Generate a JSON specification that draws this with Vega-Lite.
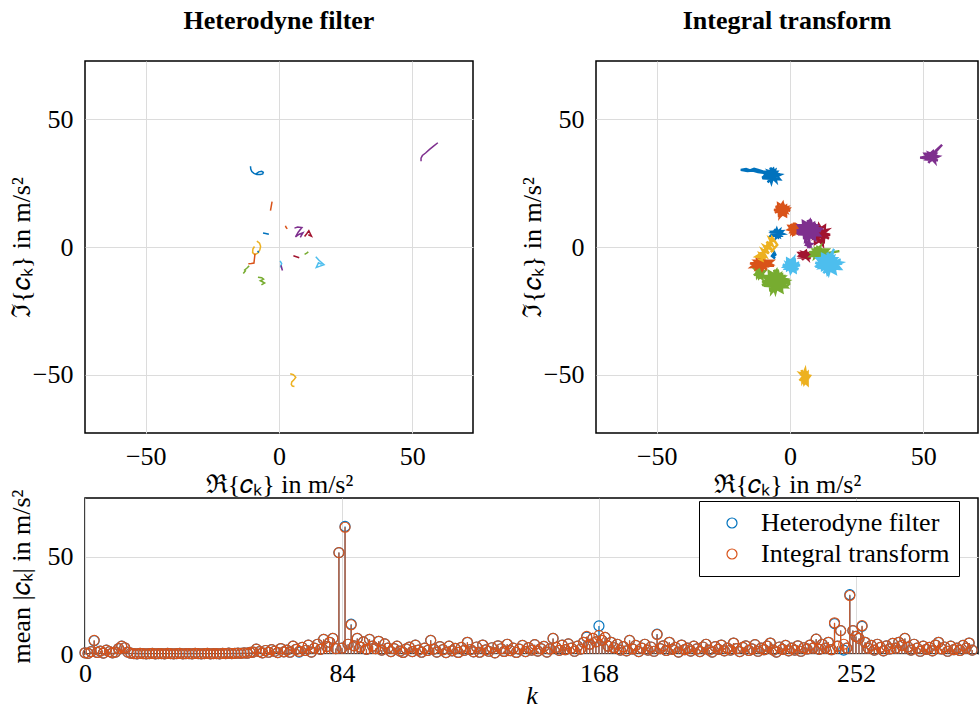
{
"$schema": "https://vega.github.io/schema/vega-lite/v6.json",
"padding": {"left": 7, "top": 7, "right": 0, "bottom": 0},
"background": "white",
"spacing": -14,
"resolve": {"scale": {"color": "independent", "x": "independent", "y": "independent"}, "legend": {"color": "independent"}},
"config": {
  "font": "Liberation Serif",
  "view": {"stroke": "black", "strokeWidth": 1.5},
  "axis": {"labelFont": "Liberation Serif", "labelFontSize": 26, "labelColor": "black", "titleFont": "Liberation Serif", "titleFontSize": 26, "titleFontWeight": "normal", "titleColor": "black", "ticks": false, "domain": false, "grid": true, "gridColor": "#dcdcdc", "gridWidth": 1, "labelFlush": false, "labelOverlap": false},
  "axisY": {"minExtent": 53, "maxExtent": 53, "titlePadding": -2},
  "title": {"font": "Liberation Serif", "fontSize": 26, "fontWeight": "bold", "color": "black", "baseline": "alphabetic", "offset": 27},
  "legend": {"labelFont": "Liberation Serif", "labelFontSize": 26, "labelColor": "black", "labelLimit": 400, "strokeColor": "black", "fillColor": "white", "padding": 9, "symbolOffset": 11, "labelOffset": 16, "rowPadding": 5, "cornerRadius": 0}
},
"vconcat": [
{
"hconcat": [
{
 "width": 388, "height": 372,
 "title": {"text": "Heterodyne filter"},
 "data": {"values": [
  {"g":"H1","c":"c1","x":[-10.7,-10.6,-10.2,-9.4,-8.3,-7.0,-6.1,-5.9,-6.5,-7.6,-8.4,-8.1],"y":[31.6,30.5,29.5,28.8,28.4,28.4,28.6,29.2,29.6,29.4,28.8,28.3]},
  {"g":"H2","c":"c2","x":[-2.6,-2.8,-3.0,-3.2],"y":[17.8,16.6,15.4,14.2]},
  {"g":"H3","c":"c1","x":[-6.0,-5.0,-3.8],"y":[5.5,5.3,5.0]},
  {"g":"H4","c":"c2","x":[2.4,2.7,3.1],"y":[8.3,7.6,7.1]},
  {"g":"H5","c":"c4","x":[5.8,7.0,8.6,7.2,6.2,7.6,9.0,8.0],"y":[7.4,7.8,7.6,5.8,4.0,5.0,5.6,3.8]},
  {"g":"H6","c":"c7","x":[9.6,10.4,11.2,11.7,12.2,11.0],"y":[4.1,5.2,6.4,5.3,4.2,4.8]},
  {"g":"H7","c":"c3","x":[-8.3,-7.3,-6.9,-7.2,-8.0,-9.1,-9.9,-9.8,-9.2],"y":[2.3,1.5,0.3,-1.2,-2.4,-3.0,-2.2,-0.8,0.2]},
  {"g":"H8","c":"c1","x":[-8.0,-7.6],"y":[-1.5,-2.2]},
  {"g":"H9","c":"c2","x":[-9.0,-9.2,-9.4,-10.4,-11.5],"y":[-2.6,-4.4,-6.3,-6.5,-6.6]},
  {"g":"H10","c":"c5","x":[-13.4,-12.6,-12.9,-12.0,-11.2],"y":[-10.4,-9.3,-9.0,-8.2,-7.4]},
  {"g":"H11","c":"c5","x":[-7.9,-6.5,-5.8,-7.0,-6.2,-5.4,-6.6],"y":[-11.8,-12.0,-12.6,-13.2,-13.6,-14.1,-14.8]},
  {"g":"H12","c":"c6","x":[0.4,1.0,0.6,1.2],"y":[-5.4,-6.5,-7.6,-8.4]},
  {"g":"H13","c":"c4","x":[0.8,1.0,1.3],"y":[-7.2,-8.2,-9.2]},
  {"g":"H14","c":"c7","x":[5.4,6.5,7.6],"y":[-3.4,-3.8,-4.2]},
  {"g":"H15","c":"c5","x":[9.6,10.4,11.0],"y":[-2.9,-2.4,-1.9]},
  {"g":"H16","c":"c6","x":[13.8,15.0,16.9,15.4,14.0,14.8,16.0],"y":[-3.8,-5.2,-6.9,-7.5,-8.0,-6.2,-6.8]},
  {"g":"H17","c":"c4","x":[53.3,53.3,53.8,55.0,56.5,58.0,59.6],"y":[33.6,34.8,35.8,36.8,38.2,39.5,40.8]},
  {"g":"H18","c":"c3","x":[4.2,5.4,6.3,5.6,4.8,4.6,5.0,5.8],"y":[-49.6,-50.0,-51.0,-52.0,-52.8,-53.8,-54.4,-54.6]}
 ]},
 "transform": [{"flatten": ["x", "y"]}],
 "mark": {"type": "line", "strokeWidth": 1.5, "clip": true},
 "encoding": {
  "x": {"field": "x", "type": "quantitative", "scale": {"domain": [-72.8, 72.8], "nice": false, "zero": false}, "axis": {"values": [-50, 0, 50], "title": "ℜ{𝑐ₖ} in m/s²", "labelPadding": 10, "titlePadding": 2, "titleLineHeight": 20}},
  "y": {"field": "y", "type": "quantitative", "scale": {"domain": [-72.8, 72.8], "nice": false, "zero": false}, "axis": {"values": [-50, 0, 50], "title": "ℑ{𝑐ₖ} in m/s²", "labelPadding": 12}},
  "detail": {"field": "g"},
  "color": {"field": "c", "type": "nominal", "scale": {"domain": ["c1","c2","c3","c4","c5","c6","c7"], "range": ["#0072BD","#D95319","#EDB120","#7E2F8E","#77AC30","#4DBEEE","#A2142F"]}, "legend": null},
  "order": {"value": null}
 }
},
{
 "width": 382, "height": 372,
 "title": {"text": "Integral transform"},
 "data": {"values": [
  {"g":"I1","c":"c1","x":[-7.0,-4.5,-8.1,-5.6,-9.8,-6.3,-5.2,-8.8,-3.5,-7.7,-10.2,-4.9,-8.4,-6.0,-9.1,-3.8,-7.4,-6.6,-10.5,-5.6,-7.0,-8.1,-10.0,-12.0,-13.5,-15.0,-16.5,-18.5,-16.0,-14.0,-12.0,-10.0],"y":[28.0,28.6,29.8,26.8,27.7,30.7,25.6,29.2,28.3,26.2,29.5,29.5,25.3,28.9,26.8,26.5,31.0,27.4,27.1,30.1,25.0,28.3,29.5,30.2,30.6,30.0,30.5,30.2,29.7,29.9,29.3,29.0]},
  {"g":"I2","c":"c2","x":[-3.0,-2.4,-1.2,-4.2,-3.3,-0.3,-5.4,-1.8,-2.7,-4.8,-1.5,-1.5,-5.7,-2.1,-4.2,-4.5,0.0,-3.6,-3.9,-0.9,-6.0,-2.7],"y":[14.5,16.5,13.7,15.6,12.3,15.1,15.9,13.1,17.3,13.9,12.0,16.2,13.4,15.3,12.8,17.0,14.2,14.8,11.7,15.6,14.5,13.7]},
  {"g":"I3","c":"c2","x":[1.5,0.0,2.2,0.6,3.3,1.1,0.4,2.6,-0.7,1.9,3.5,0.2,2.4,0.8,2.8,-0.5,1.7,1.3,3.7,0.6,1.5,2.2],"y":[7.0,6.5,5.5,8.0,7.3,4.8,9.0,6.0,6.8,8.5,5.8,5.8,9.3,6.3,8.0,8.3,4.5,7.5,7.8,5.3,9.5,6.8]},
  {"g":"I4","c":"c1","x":[-5.0,-3.3,-5.8,-4.0,-7.0,-4.5,-3.8,-6.3,-2.5,-5.5,-7.3,-3.5,-6.0,-4.3,-6.5,-2.8,-5.3,-4.8,-7.5,-4.0,-5.0,-5.8],"y":[5.3,4.9,4.2,6.0,5.5,3.7,6.7,4.6,5.1,6.4,4.4,4.4,6.9,4.8,6.0,6.2,3.5,5.7,5.8,4.0,7.1,5.1]},
  {"g":"I6","c":"c7","x":[11.2,10.4,8.9,12.7,11.6,7.8,14.2,9.7,10.8,13.5,9.3,9.3,14.6,10.1,12.7,13.1,7.4,12.0,12.3,8.5,15.0,10.8],"y":[4.8,7.6,3.6,6.4,1.6,5.6,6.8,2.8,8.8,4.0,1.2,7.2,3.2,6.0,2.4,8.4,4.4,5.2,0.8,6.4,4.8,3.6]},
  {"g":"I5","c":"c4","x":[7.0,10.2,5.7,8.8,3.4,7.9,9.3,4.8,11.5,6.1,3.0,9.7,5.2,8.4,4.3,11.1,6.6,7.5,2.5,8.8,7.0,5.7,7.0,7.9,9.7,5.2,6.6,11.1,3.4,8.8,7.5,4.3,9.3,9.3,3.0,8.4,5.2,4.8,11.5,6.1,5.7,10.2,2.5,7.5],"y":[6.5,7.3,8.9,4.9,6.1,10.1,3.3,8.1,6.9,4.1,8.5,8.5,2.9,7.7,4.9,4.5,10.5,5.7,5.3,9.3,2.5,6.9,6.5,9.3,5.3,8.1,3.3,7.3,8.5,4.5,10.5,5.7,2.9,8.9,4.9,7.7,4.1,10.1,6.1,6.9,2.5,8.1,6.5,5.3]},
  {"g":"I7","c":"c4","x":[7.0,7.8,6.6,7.5,6.0,7.2,7.6,6.4,8.2,6.8,5.9,7.7],"y":[1.0,1.3,2.0,0.4,0.8,2.4,-0.3,1.6,1.2,0.0,1.8,1.8]},
  {"g":"I10","c":"c5","x":[-11.5,-11.0,-10.1,-12.4,-11.7,-9.4,-13.3,-10.6,-11.3,-12.9,-10.3,-10.3,-13.6,-10.8,-12.4,-12.7],"y":[-10.0,-8.0,-10.8,-8.9,-12.2,-9.4,-8.6,-11.4,-7.2,-10.6,-12.5,-8.3,-11.1,-9.2,-11.7,-7.5]},
  {"g":"I9","c":"c2","x":[-10.5,-13.7,-9.2,-12.3,-6.9,-11.4,-12.8,-8.3,-15.0,-9.6,-6.5,-13.2,-8.7,-11.9,-7.8,-14.6,-10.1,-11.0,-6.0,-12.3,-10.5,-9.2],"y":[-6.6,-6.1,-5.1,-7.6,-6.9,-4.4,-8.6,-5.6,-6.4,-8.1,-5.4,-5.4,-8.9,-5.9,-7.6,-7.9,-4.1,-7.1,-7.4,-4.9,-9.1,-6.4]},
  {"g":"I18","c":"c1","x":[-6.2,-5.5,-6.5,-5.8,-6.8,-5.6],"y":[-1.5,-3.0,-4.0,-2.0,-3.5,-4.5]},
  {"g":"I8","c":"c3","x":[-12.0,-10.5,-11.5,-9.0,-10.5,-8.0,-9.8,-7.0,-8.8,-6.5,-7.8,-5.5,-6.8,-7.5,-9.5,-8.2,-11.0,-9.2,-12.8,-10.0,-8.5,-6.2,-4.8,-7.2],"y":[-4.5,-5.2,-2.5,-3.8,-1.0,-2.5,0.5,-1.0,2.0,0.5,3.5,2.0,3.8,1.0,-1.5,-0.5,-3.5,-4.5,-3.8,-2.0,1.0,3.0,0.8,-2.0]},
  {"g":"I11","c":"c5","x":[-5.5,-2.0,-7.0,-3.5,-9.5,-4.5,-3.0,-8.0,-0.5,-6.5,-10.0,-2.5,-7.5,-4.0,-8.5,-1.0,-6.0,-5.0,-10.5,-3.5,-5.5,-7.0,-5.5,-4.5,-2.5,-7.5,-6.0,-1.0,-9.5,-3.5,-5.0,-8.5,-3.0,-3.0,-10.0,-4.0,-7.5,-8.0,-0.5,-6.5,-7.0,-2.0,-10.5,-5.0,-2.0,-0.5,-0.3,-1.5,-3.0,-3.2,-2.0,-1.2,-2.0],"y":[-13.5,-12.6,-10.8,-15.3,-14.0,-9.5,-17.1,-11.7,-13.1,-16.2,-11.3,-11.3,-17.6,-12.2,-15.3,-15.8,-9.0,-14.4,-14.9,-10.4,-18.0,-13.1,-13.5,-10.4,-14.9,-11.7,-17.1,-12.6,-11.3,-15.8,-9.0,-14.4,-17.6,-10.8,-15.3,-12.2,-16.2,-9.5,-14.0,-13.1,-18.0,-11.7,-13.5,-14.9,-12.5,-13.0,-14.5,-15.5,-15.0,-13.5,-13.0,-14.0,-14.5]},
  {"g":"I12","c":"c6","x":[0.5,-0.1,-1.4,1.8,0.8,-2.4,3.1,-0.8,0.2,2.4,-1.1,-1.1,3.4,-0.5,1.8,2.1,-2.7,1.1,1.5,-1.7,3.7,0.2],"y":[-7.2,-9.3,-6.3,-8.4,-4.8,-7.8,-8.7,-5.7,-10.2,-6.6,-4.5,-9.0,-6.0,-8.1,-5.4,-9.9,-6.9,-7.5,-4.2,-8.4,-7.2,-6.3]},
  {"g":"I13","c":"c7","x":[5.5,7.3,4.8,6.5,3.5,6.0,6.8,4.3,8.0,5.0,3.3,7.0,4.5,6.3,4.0,7.8],"y":[-3.3,-2.9,-2.1,-4.1,-3.5,-1.5,-4.9,-2.5,-3.1,-4.5,-2.3,-2.3,-5.1,-2.7,-4.1,-4.3]},
  {"g":"I14","c":"c5","x":[11.0,8.3,12.1,9.5,14.0,10.2,9.1,12.9,7.2,11.8,14.4,8.7,12.5,9.9,13.3,7.6,11.4,10.6,14.8,9.5,11.0,12.1,15.5,18.5,13.0],"y":[-2.3,-1.8,-0.7,-3.3,-2.6,0.0,-4.4,-1.3,-2.0,-3.9,-1.0,-1.0,-4.6,-1.5,-3.3,-3.6,0.3,-2.8,-3.1,-0.5,-4.9,-2.0,-2.2,-1.6,-2.5]},
  {"g":"I15","c":"c6","x":[14.5,18.0,13.0,16.5,10.5,15.5,17.0,12.0,19.5,13.5,10.0,17.5,12.5,16.0,11.5,19.0,14.0,15.0,9.5,16.5,14.5,13.0,14.5,13.5,11.5,16.5,15.0,10.0,18.5,12.5,14.0,17.5,12.0,12.0,19.0,13.0,16.5,17.0,9.5,15.5,16.0,11.0,19.5,14.0,16.5,15.5],"y":[-6.5,-5.7,-4.0,-8.2,-6.9,-2.7,-9.9,-4.8,-6.1,-9.0,-4.4,-4.4,-10.3,-5.2,-8.2,-8.6,-2.3,-7.3,-7.8,-3.6,-10.7,-6.1,-6.5,-9.4,-5.2,-8.2,-3.1,-7.3,-8.6,-4.4,-10.7,-5.7,-2.7,-9.0,-4.8,-7.8,-4.0,-10.3,-6.1,-6.9,-2.3,-8.2,-6.5,-5.2,-0.8,-3.0]},
  {"g":"I16","c":"c4","x":[53.0,55.0,52.2,54.1,50.8,53.6,54.4,51.6,55.8,52.4,50.5,54.7,51.9,53.8,51.3,55.5,48.8,52.0,54.5,57.0,54.0],"y":[35.2,35.7,36.8,34.2,34.9,37.5,33.1,36.2,35.5,33.6,36.5,36.5,32.9,36.0,34.2,33.9,35.0,35.5,37.5,40.0,36.5]},
  {"g":"I17","c":"c3","x":[5.5,5.9,6.8,4.6,5.3,7.5,3.7,6.4,5.7,4.2,6.6,6.6,3.5,6.2,4.6,4.4],"y":[-51.0,-48.8,-52.0,-49.7,-53.6,-50.4,-49.4,-52.6,-47.8,-51.6,-53.9,-49.1,-52.3,-50.0,-52.9,-48.1]}
 ]},
 "transform": [{"flatten": ["x", "y"]}],
 "mark": {"type": "line", "strokeWidth": 2.4, "clip": true},
 "encoding": {
  "x": {"field": "x", "type": "quantitative", "scale": {"domain": [-72.8, 70.5], "nice": false, "zero": false}, "axis": {"values": [-50, 0, 50], "title": "ℜ{𝑐ₖ} in m/s²", "labelPadding": 10, "titlePadding": 2, "titleLineHeight": 20}},
  "y": {"field": "y", "type": "quantitative", "scale": {"domain": [-72.8, 72.8], "nice": false, "zero": false}, "axis": {"values": [-50, 0, 50], "title": "ℑ{𝑐ₖ} in m/s²", "labelPadding": 12}},
  "detail": {"field": "g"},
  "color": {"field": "c", "type": "nominal", "scale": {"domain": ["c1","c2","c3","c4","c5","c6","c7"], "range": ["#0072BD","#D95319","#EDB120","#7E2F8E","#77AC30","#4DBEEE","#A2142F"]}, "legend": null},
  "order": {"value": null}
 }
}
],
"spacing": 44,
"resolve": {"scale": {"x": "independent", "y": "independent", "color": "independent"}}
},
{
 "width": 893, "height": 156,
 "data": {"values": [
{"k":0,"h":0.6,"i":0.6},{"k":1,"h":0.3,"i":0.3},{"k":2,"h":1.2,"i":1.2},{"k":3,"h":6.8,"i":7.0},{"k":4,"h":0.8,"i":0.8},{"k":5,"h":1.5,"i":1.5},{"k":6,"h":0.5,"i":0.5},{"k":7,"h":2.0,"i":2.0},{"k":8,"h":1.2,"i":1.2},{"k":9,"h":0.6,"i":0.6},
{"k":10,"h":1.0,"i":1.0},{"k":11,"h":2.8,"i":2.8},{"k":12,"h":4.0,"i":4.0},{"k":13,"h":3.2,"i":3.2},{"k":14,"h":1.0,"i":1.0},{"k":15,"h":0.4,"i":0.4},{"k":16,"h":0.2,"i":0.2},{"k":17,"h":0.1,"i":0.1},{"k":18,"h":0.3,"i":0.3},{"k":19,"h":0.2,"i":0.2},
{"k":20,"h":0.1,"i":0.1},{"k":21,"h":0.2,"i":0.2},{"k":22,"h":0.3,"i":0.3},{"k":23,"h":0.1,"i":0.1},{"k":24,"h":0.2,"i":0.2},{"k":25,"h":0.2,"i":0.2},{"k":26,"h":0.1,"i":0.1},{"k":27,"h":0.3,"i":0.3},{"k":28,"h":0.2,"i":0.2},{"k":29,"h":0.1,"i":0.1},
{"k":30,"h":0.2,"i":0.2},{"k":31,"h":0.3,"i":0.3},{"k":32,"h":0.1,"i":0.1},{"k":33,"h":0.2,"i":0.2},{"k":34,"h":0.2,"i":0.2},{"k":35,"h":0.1,"i":0.1},{"k":36,"h":0.3,"i":0.3},{"k":37,"h":0.2,"i":0.2},{"k":38,"h":0.1,"i":0.1},{"k":39,"h":0.2,"i":0.2},
{"k":40,"h":0.3,"i":0.3},{"k":41,"h":0.1,"i":0.1},{"k":42,"h":0.2,"i":0.2},{"k":43,"h":0.2,"i":0.2},{"k":44,"h":0.1,"i":0.1},{"k":45,"h":0.3,"i":0.3},{"k":46,"h":0.2,"i":0.2},{"k":47,"h":0.4,"i":0.4},{"k":48,"h":0.2,"i":0.2},{"k":49,"h":0.3,"i":0.3},
{"k":50,"h":0.5,"i":0.5},{"k":51,"h":0.3,"i":0.3},{"k":52,"h":0.6,"i":0.6},{"k":53,"h":0.4,"i":0.4},{"k":54,"h":0.8,"i":0.8},{"k":55,"h":1.0,"i":1.0},{"k":56,"h":2.5,"i":2.5},{"k":57,"h":1.2,"i":1.2},{"k":58,"h":0.6,"i":0.6},{"k":59,"h":1.8,"i":1.8},
{"k":60,"h":0.9,"i":0.9},{"k":61,"h":2.2,"i":2.2},{"k":62,"h":1.4,"i":1.4},{"k":63,"h":0.7,"i":0.7},{"k":64,"h":2.8,"i":2.8},{"k":65,"h":1.1,"i":1.1},{"k":66,"h":2.0,"i":2.0},{"k":67,"h":0.9,"i":0.9},{"k":68,"h":4.0,"i":4.0},{"k":69,"h":2.4,"i":2.4},
{"k":70,"h":1.0,"i":1.3},{"k":71,"h":3.4,"i":3.4},{"k":72,"h":1.8,"i":1.8},{"k":73,"h":4.5,"i":4.5},{"k":74,"h":1.0,"i":1.0},{"k":75,"h":3.0,"i":3.0},{"k":76,"h":5.0,"i":5.0},{"k":77,"h":2.4,"i":2.4},{"k":78,"h":7.5,"i":7.5},{"k":79,"h":3.8,"i":3.8},
{"k":80,"h":6.0,"i":6.0},{"k":81,"h":8.0,"i":8.0},{"k":82,"h":2.8,"i":2.8},{"k":83,"h":52.0,"i":52.0},{"k":84,"h":3.0,"i":3.0},{"k":85,"h":65.4,"i":65.0},{"k":86,"h":5.0,"i":5.0},{"k":87,"h":15.3,"i":15.0},{"k":88,"h":4.2,"i":4.2},{"k":89,"h":8.0,"i":8.0},
{"k":90,"h":3.5,"i":3.5},{"k":91,"h":6.2,"i":6.2},{"k":92,"h":2.4,"i":2.4},{"k":93,"h":7.5,"i":7.5},{"k":94,"h":4.0,"i":4.0},{"k":95,"h":2.8,"i":2.8},{"k":96,"h":6.5,"i":6.5},{"k":97,"h":2.0,"i":2.0},{"k":98,"h":5.2,"i":5.2},{"k":99,"h":3.0,"i":3.0},
{"k":100,"h":1.2,"i":1.2},{"k":101,"h":2.8,"i":2.8},{"k":102,"h":4.0,"i":4.0},{"k":103,"h":1.5,"i":1.5},{"k":104,"h":0.8,"i":0.8},{"k":105,"h":2.6,"i":2.6},{"k":106,"h":3.5,"i":3.5},{"k":107,"h":1.2,"i":1.2},{"k":108,"h":4.5,"i":4.5},{"k":109,"h":2.0,"i":2.0},
{"k":110,"h":0.9,"i":0.9},{"k":111,"h":3.0,"i":3.0},{"k":112,"h":1.8,"i":1.8},{"k":113,"h":7.0,"i":7.0},{"k":114,"h":2.5,"i":2.5},{"k":115,"h":1.0,"i":1.0},{"k":116,"h":3.8,"i":3.8},{"k":117,"h":2.2,"i":2.2},{"k":118,"h":0.7,"i":0.7},{"k":119,"h":4.0,"i":4.0},
{"k":120,"h":1.6,"i":1.6},{"k":121,"h":2.9,"i":2.9},{"k":122,"h":0.8,"i":0.8},{"k":123,"h":3.4,"i":3.4},{"k":124,"h":1.9,"i":1.9},{"k":125,"h":6.0,"i":6.0},{"k":126,"h":2.3,"i":2.3},{"k":127,"h":1.1,"i":1.1},{"k":128,"h":3.6,"i":3.6},{"k":129,"h":0.9,"i":0.9},
{"k":130,"h":4.6,"i":4.6},{"k":131,"h":2.1,"i":2.1},{"k":132,"h":1.4,"i":1.4},{"k":133,"h":3.2,"i":3.2},{"k":134,"h":0.6,"i":0.6},{"k":135,"h":4.2,"i":4.2},{"k":136,"h":2.7,"i":2.7},{"k":137,"h":1.3,"i":1.3},{"k":138,"h":5.0,"i":5.0},{"k":139,"h":1.7,"i":1.7},
{"k":140,"h":3.0,"i":3.0},{"k":141,"h":0.8,"i":0.8},{"k":142,"h":2.5,"i":2.5},{"k":143,"h":4.4,"i":4.4},{"k":144,"h":1.2,"i":1.2},{"k":145,"h":3.3,"i":3.3},{"k":146,"h":2.0,"i":2.0},{"k":147,"h":4.8,"i":4.8},{"k":148,"h":1.5,"i":1.5},{"k":149,"h":2.8,"i":2.8},
{"k":150,"h":3.9,"i":3.9},{"k":151,"h":1.0,"i":1.0},{"k":152,"h":2.6,"i":2.6},{"k":153,"h":8.0,"i":8.0},{"k":154,"h":3.4,"i":3.4},{"k":155,"h":1.9,"i":1.9},{"k":156,"h":4.5,"i":4.5},{"k":157,"h":2.2,"i":2.2},{"k":158,"h":5.2,"i":5.2},{"k":159,"h":3.0,"i":3.0},
{"k":160,"h":1.4,"i":1.4},{"k":161,"h":4.0,"i":4.0},{"k":162,"h":2.5,"i":2.5},{"k":163,"h":6.0,"i":6.0},{"k":164,"h":8.7,"i":9.0},{"k":165,"h":5.0,"i":5.0},{"k":166,"h":8.0,"i":8.0},{"k":167,"h":6.2,"i":6.2},{"k":168,"h":14.4,"i":9.5},{"k":169,"h":7.0,"i":7.0},
{"k":170,"h":8.5,"i":8.5},{"k":171,"h":4.0,"i":4.0},{"k":172,"h":6.0,"i":6.0},{"k":173,"h":3.2,"i":3.2},{"k":174,"h":5.0,"i":5.0},{"k":175,"h":2.0,"i":2.0},{"k":176,"h":3.8,"i":3.8},{"k":177,"h":1.6,"i":1.6},{"k":178,"h":7.0,"i":7.0},{"k":179,"h":2.6,"i":2.6},
{"k":180,"h":4.4,"i":4.4},{"k":181,"h":1.2,"i":1.2},{"k":182,"h":3.0,"i":3.0},{"k":183,"h":5.0,"i":5.0},{"k":184,"h":2.0,"i":2.0},{"k":185,"h":3.6,"i":3.6},{"k":186,"h":1.4,"i":1.4},{"k":187,"h":10.2,"i":10.0},{"k":188,"h":2.8,"i":2.8},{"k":189,"h":4.2,"i":4.2},
{"k":190,"h":1.8,"i":1.8},{"k":191,"h":6.0,"i":6.0},{"k":192,"h":2.4,"i":2.4},{"k":193,"h":3.4,"i":3.4},{"k":194,"h":1.0,"i":1.0},{"k":195,"h":4.6,"i":4.6},{"k":196,"h":2.2,"i":2.2},{"k":197,"h":3.0,"i":3.0},{"k":198,"h":1.5,"i":1.5},{"k":199,"h":4.0,"i":4.0},
{"k":200,"h":2.6,"i":2.6},{"k":201,"h":1.2,"i":1.2},{"k":202,"h":3.6,"i":3.6},{"k":203,"h":5.0,"i":5.0},{"k":204,"h":2.0,"i":2.0},{"k":205,"h":1.0,"i":1.0},{"k":206,"h":3.8,"i":3.8},{"k":207,"h":2.4,"i":2.4},{"k":208,"h":4.6,"i":4.6},{"k":209,"h":1.6,"i":1.6},
{"k":210,"h":3.0,"i":3.0},{"k":211,"h":2.0,"i":2.0},{"k":212,"h":5.6,"i":5.6},{"k":213,"h":2.8,"i":2.8},{"k":214,"h":1.2,"i":1.2},{"k":215,"h":3.4,"i":3.4},{"k":216,"h":4.2,"i":4.2},{"k":217,"h":1.8,"i":1.8},{"k":218,"h":2.6,"i":2.6},{"k":219,"h":4.8,"i":4.8},
{"k":220,"h":1.4,"i":1.4},{"k":221,"h":3.0,"i":3.0},{"k":222,"h":2.2,"i":2.2},{"k":223,"h":4.0,"i":4.0},{"k":224,"h":5.6,"i":5.6},{"k":225,"h":2.0,"i":2.0},{"k":226,"h":1.0,"i":1.0},{"k":227,"h":3.6,"i":3.6},{"k":228,"h":2.4,"i":2.4},{"k":229,"h":4.4,"i":4.4},
{"k":230,"h":1.6,"i":1.6},{"k":231,"h":3.0,"i":3.0},{"k":232,"h":2.0,"i":2.0},{"k":233,"h":4.2,"i":4.2},{"k":234,"h":1.4,"i":1.4},{"k":235,"h":3.2,"i":3.2},{"k":236,"h":2.6,"i":2.6},{"k":237,"h":4.6,"i":4.6},{"k":238,"h":3.0,"i":3.0},{"k":239,"h":7.6,"i":7.6},
{"k":240,"h":2.4,"i":2.4},{"k":241,"h":5.0,"i":5.0},{"k":242,"h":3.0,"i":3.0},{"k":243,"h":6.0,"i":6.0},{"k":244,"h":2.2,"i":2.2},{"k":245,"h":15.6,"i":16.0},{"k":246,"h":4.0,"i":4.0},{"k":247,"h":12.0,"i":12.0},{"k":248,"h":2.0,"i":5.0},{"k":249,"h":3.0,"i":3.0},
{"k":250,"h":30.4,"i":30.0},{"k":251,"h":12.0,"i":12.0},{"k":252,"h":9.0,"i":9.0},{"k":253,"h":8.0,"i":8.0},{"k":254,"h":14.2,"i":14.5},{"k":255,"h":6.0,"i":6.0},{"k":256,"h":3.0,"i":3.0},{"k":257,"h":4.4,"i":4.4},{"k":258,"h":2.0,"i":2.0},{"k":259,"h":5.0,"i":5.0},
{"k":260,"h":3.4,"i":3.4},{"k":261,"h":1.6,"i":1.6},{"k":262,"h":4.2,"i":4.2},{"k":263,"h":2.6,"i":2.6},{"k":264,"h":5.4,"i":5.4},{"k":265,"h":3.0,"i":3.0},{"k":266,"h":6.0,"i":6.0},{"k":267,"h":4.4,"i":4.4},{"k":268,"h":8.0,"i":8.0},{"k":269,"h":3.6,"i":3.6},
{"k":270,"h":2.0,"i":2.0},{"k":271,"h":5.0,"i":5.0},{"k":272,"h":3.0,"i":3.0},{"k":273,"h":1.4,"i":1.4},{"k":274,"h":4.0,"i":4.0},{"k":275,"h":2.4,"i":2.4},{"k":276,"h":3.4,"i":3.4},{"k":277,"h":1.6,"i":1.6},{"k":278,"h":4.6,"i":4.6},{"k":279,"h":6.0,"i":6.0},
{"k":280,"h":2.6,"i":2.6},{"k":281,"h":3.6,"i":3.6},{"k":282,"h":1.4,"i":1.4},{"k":283,"h":4.0,"i":4.0},{"k":284,"h":2.2,"i":2.2},{"k":285,"h":3.0,"i":3.0},{"k":286,"h":1.8,"i":1.8},{"k":287,"h":4.4,"i":4.4},{"k":288,"h":3.0,"i":3.0},{"k":289,"h":5.6,"i":5.6},
{"k":290,"h":2.0,"i":2.0}
 ]},
 "encoding": {
  "x": {"field": "k", "type": "quantitative", "scale": {"domain": [0, 291.9], "nice": false, "zero": false}, "axis": {"values": [0, 84, 168, 252], "title": "k", "titleFontStyle": "italic", "labelPadding": 6, "titlePadding": -4}}
 },
 "layer": [
  {"mark": {"type": "rule", "strokeWidth": 1.2},
   "encoding": {
    "y": {"field": "h", "type": "quantitative", "title": "mean |𝑐ₖ| in m/s²", "scale": {"domain": [0, 80], "nice": false, "zero": false}, "axis": {"values": [0, 50], "labelPadding": 12}},
    "y2": {"datum": 0},
    "color": {"datum": "Heterodyne filter", "type": "nominal", "scale": {"domain": ["Heterodyne filter", "Integral transform"], "range": ["#0072BD", "#D95319"]}, "legend": {"title": null, "orient": "none", "legendX": 614, "legendY": 3, "symbolType": "circle", "symbolSize": 100, "symbolStrokeWidth": 1.2, "symbolFillColor": "transparent"}}
   }},
  {"mark": {"type": "point", "filled": false, "size": 100, "strokeWidth": 1.2, "opacity": 1},
   "encoding": {
    "y": {"field": "h", "type": "quantitative", "title": "mean |𝑐ₖ| in m/s²"},
    "color": {"datum": "Heterodyne filter", "type": "nominal"}
   }},
  {"mark": {"type": "rule", "strokeWidth": 1.2},
   "encoding": {
    "y": {"field": "i", "type": "quantitative", "title": "mean |𝑐ₖ| in m/s²"},
    "y2": {"datum": 0},
    "color": {"datum": "Integral transform", "type": "nominal"}
   }},
  {"mark": {"type": "point", "filled": false, "size": 100, "strokeWidth": 1.2, "opacity": 1},
   "encoding": {
    "y": {"field": "i", "type": "quantitative", "title": "mean |𝑐ₖ| in m/s²"},
    "color": {"datum": "Integral transform", "type": "nominal"}
   }}
 ]
}
]
}
